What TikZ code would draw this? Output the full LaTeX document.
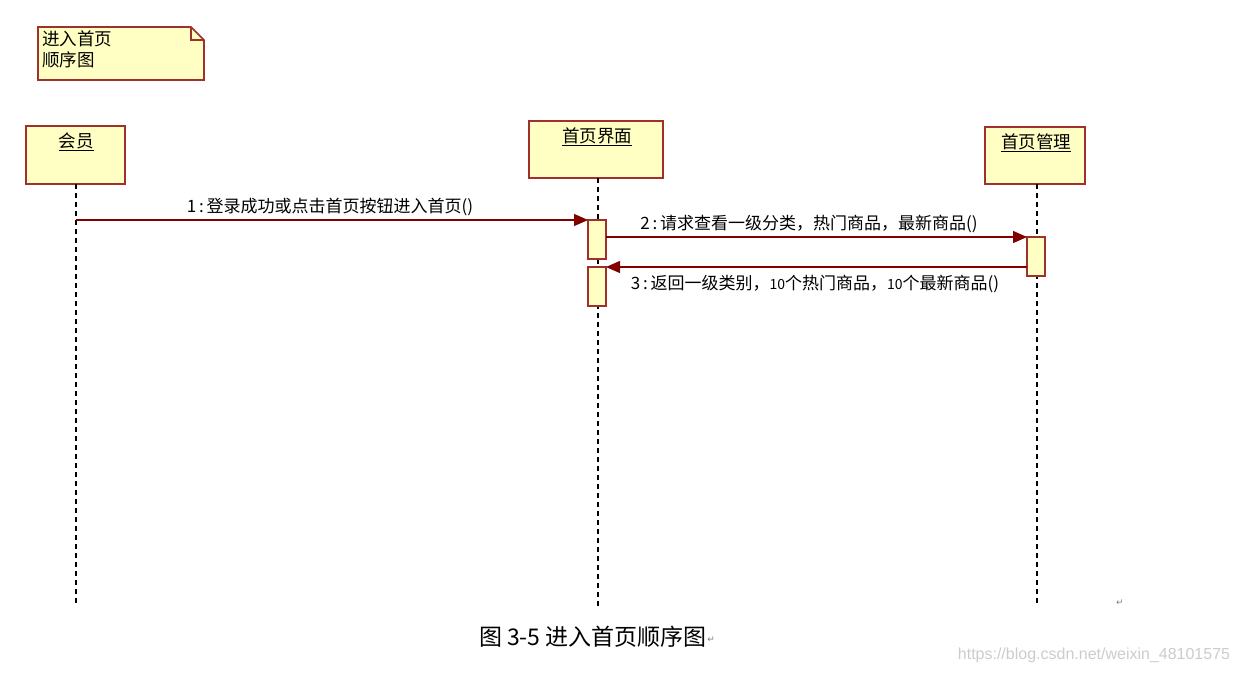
\documentclass[tikz,border=0pt]{standalone}
\usepackage{fontspec}
\setmainfont{Liberation Sans}
\newfontfamily\cjk{Noto Sans CJK SC}
\newfontfamily\djvu{DejaVu Sans}
\usetikzlibrary{arrows.meta}
\definecolor{bord}{HTML}{A0302C}
\definecolor{fillc}{HTML}{FFFFC4}
\definecolor{arr}{HTML}{800000}
\begin{document}
\begin{tikzpicture}[x=1pt,y=-1pt,
  obj/.style={draw=bord,fill=fillc,line width=1.6pt},
  act/.style={draw=bord,fill=fillc,line width=1.3pt},
  life/.style={line width=1.2pt,dash pattern=on 5pt off 4pt},
  msg/.style={draw=arr,line width=1.3pt,-{Triangle[length=14pt,width=12pt]}},
  lbl/.style={font=\cjk\fontsize{17}{19}\selectfont,inner sep=0pt},
  ttl/.style={font=\cjk\fontsize{17.5}{21}\selectfont,inner sep=0pt}]
\useasboundingbox (0,0) rectangle (1239,673);
% note
\draw[obj] (38,27) -- (191,27) -- (204,40) -- (204,80) -- (38,80) -- cycle;
\draw[draw=bord,line width=1.3pt] (191,27) -- (191,40) -- (204,40);
\node[ttl,anchor=north west,align=left] (note) at (42,31) {进入首页\\顺序图};
% objects
\draw[obj] (26,126) rectangle (125,184);
\node[ttl] (a) at (76,142) {\underline{会员}};
\draw[obj] (529,121) rectangle (663,178);
\node[ttl] (b) at (597,137) {\underline{首页界面}};
\draw[obj] (985,127) rectangle (1085,184);
\node[ttl] (c) at (1036,143) {\underline{首页管理}};
% lifelines
\coordinate (la0) at (76,184); \coordinate (la1) at (76,606);
\coordinate (lb0) at (598,178); \coordinate (lb1) at (598,606);
\coordinate (lc0) at (1037,184); \coordinate (lc1) at (1037,606);
\draw[life] (la0) -- (la1);
\draw[life] (lb0) -- (lb1);
\draw[life] (lc0) -- (lc1);
% activations
\draw[act] (588,220) rectangle (606,259);
\draw[act] (588,267) rectangle (606,306);
\draw[act] (1027,237) rectangle (1045,276);
% messages
\coordinate (m1s) at (76,220); \coordinate (m1e) at (588,220);
\coordinate (m2s) at (606,237); \coordinate (m2e) at (1027,237);
\coordinate (m3s) at (1027,267); \coordinate (m3e) at (606,267);
\draw[msg] (m1s) -- (m1e);
\draw[msg] (m2s) -- (m2e);
\draw[msg] (m3s) -- (m3e);
\node[lbl] (t1) at (330,207) {1\,:\,登录成功或点击首页按钮进入首页()};
\node[lbl] (t2) at (809,224) {2\,:\,请求查看一级分类，热门商品，最新商品()};
\node[lbl] (t3) at (815,284) {3\,:\,返回一级类别，\fontsize{14}{16}\selectfont 10\fontsize{17}{19}\selectfont 个热门商品，\fontsize{14}{16}\selectfont 10\fontsize{17}{19}\selectfont 个最新商品()};
% caption
\node[inner sep=0pt,font=\cjk\fontsize{23}{26}\selectfont] (cap) at (593,637) {图 3-5 进入首页顺序图};
\node[inner sep=0pt,font=\djvu\fontsize{9}{10}\selectfont,text=gray,anchor=west] (pm1) at ([yshift=-3pt]cap.east) {↵};
\node[inner sep=0pt,font=\djvu\fontsize{9}{10}\selectfont,text=gray] (pm2) at (1120,603) {↵};
\node[inner sep=0pt,font=\fontsize{16}{18}\selectfont,text=black!20] (wm) at (1094,655) {https://blog.csdn.net/weixin\_48101575};
\end{tikzpicture}
\end{document}
